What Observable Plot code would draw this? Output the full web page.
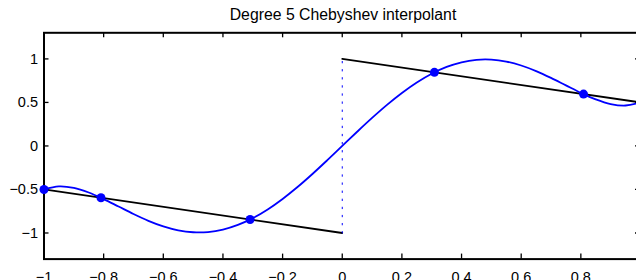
<!DOCTYPE html>
<html>
<head>
<meta charset="utf-8">
<script src="https://cdn.jsdelivr.net/npm/d3@7"></script>
<script src="https://cdn.jsdelivr.net/npm/@observablehq/plot@0.6"></script>
<style>
  html, body { margin: 0; padding: 0; background: #fff; overflow: hidden; }
  #title { height: 26px; padding-top: 3px; line-height: 24px; text-align: center;
           font-family: "Liberation Sans", Arial, Helvetica, sans-serif; font-size: 15.8px;
           color: #000; width: 636px; padding-left: 50px; box-sizing: border-box; }
  #chart svg { display: block; }
</style>
</head>
<body>
<div id="title">Degree 5 Chebyshev interpolant</div>
<div id="chart"></div>
<script>
// x positions sampled along the interpolant curve
const curveX = [-1, -0.95, -0.9, -0.85, -0.8, -0.75, -0.7, -0.65, -0.6, -0.55, -0.5, -0.45, -0.4, -0.35, -0.3, -0.25, -0.2, -0.15, -0.1, -0.05,
  0, 0.05, 0.1, 0.15, 0.2, 0.25, 0.3, 0.35, 0.4, 0.45, 0.5, 0.55, 0.6, 0.65, 0.7, 0.75, 0.8, 0.85, 0.9, 0.95, 1];
// interpolant values
const curveY = [-0.5, -0.4648, -0.4818, -0.5349, -0.6102, -0.6958, -0.7819, -0.8602, -0.9243, -0.9693, -0.9916, -0.9893, -0.9613, -0.9077, -0.8297, -0.7292, -0.6087, -0.4717, -0.3218, -0.1631,
  0, 0.1631, 0.3218, 0.4717, 0.6087, 0.7292, 0.8297, 0.9077, 0.9613, 0.9893, 0.9916, 0.9693, 0.9243, 0.8602, 0.7819, 0.6958, 0.6102, 0.5349, 0.4818, 0.4648, 0.5];
// interpolation nodes (Chebyshev points)
const nodeX = [-1, -0.809, -0.309, 0.309, 0.809, 1];
const nodeY = [-0.5, -0.5955, -0.8455, 0.8455, 0.5955, 0.5];
// the function: two straight pieces
const pieceX = [-1, 0, 0, 1];
const pieceY = [-0.5, -1, 1, 0.5];
const pieceId = ["left", "left", "right", "right"];
// jump at zero (dotted)
const jumpX = [0, 0];
const jumpY = [-1, 1];
// axes
const xDomain = [-1, 1];
const yDomain = [-1.3, 1.3];
const xTicks = [-1, -0.8, -0.6, -0.4, -0.2, 0, 0.2, 0.4, 0.6, 0.8, 1];
const yTicks = [-1, -0.5, 0, 0.5, 1];

const curve = curveX.map((x, i) => ({x, y: curveY[i]}));
const nodes = nodeX.map((x, i) => ({x, y: nodeY[i]}));
const pieces = pieceX.map((x, i) => ({x, y: pieceY[i], id: pieceId[i]}));
const jump = jumpX.map((x, i) => ({x, y: jumpY[i]}));
const fmt = d3.format("~g");
const blue = "#0000ff";

const plot = Plot.plot({
  width: 636,
  height: 254,
  marginLeft: 43.5,
  marginRight: -4,
  marginTop: 6.3,
  marginBottom: 21.4,
  style: {fontFamily: "'Liberation Sans', Arial, Helvetica, sans-serif", fontSize: "14.5px", color: "#000", background: "#fff", overflow: "hidden"},
  x: {domain: xDomain},
  y: {domain: yDomain},
  marks: [
    Plot.axisX(xTicks, {anchor: "bottom", tickSize: 0, tickPadding: 12.5, tickFormat: fmt, label: null}),
    Plot.axisY(yTicks, {anchor: "left", tickSize: 0, tickPadding: 6, tickFormat: fmt, label: null}),
    // inward tick marks on all four sides
    Plot.ruleX(xTicks, {x: d => d, y1: yDomain[0], y2: yDomain[0], insetTop: -5, stroke: "#000", strokeWidth: 1.3}),
    Plot.ruleX(xTicks, {x: d => d, y1: yDomain[1], y2: yDomain[1], insetBottom: -5, stroke: "#000", strokeWidth: 1.3}),
    Plot.ruleY(yTicks, {y: d => d, x1: xDomain[0], x2: xDomain[0], insetRight: -5, stroke: "#000", strokeWidth: 1.3}),
    Plot.ruleY(yTicks, {y: d => d, x1: xDomain[1], x2: xDomain[1], insetLeft: -5, stroke: "#000", strokeWidth: 1.3}),
    Plot.frame({stroke: "#000", strokeWidth: 2}),
    Plot.line(pieces, {x: "x", y: "y", z: "id", stroke: "#000", strokeWidth: 1.8}),
    Plot.line(jump, {x: "x", y: "y", stroke: blue, strokeWidth: 1, strokeDasharray: "1.5,6.6"}),
    Plot.line(curve, {x: "x", y: "y", stroke: blue, strokeWidth: 1.8, curve: "catmull-rom"}),
    Plot.dot(nodes, {x: "x", y: "y", r: 4.5, fill: blue, stroke: "none"})
  ]
});
document.getElementById("chart").appendChild(plot);
</script>
</body>
</html>
